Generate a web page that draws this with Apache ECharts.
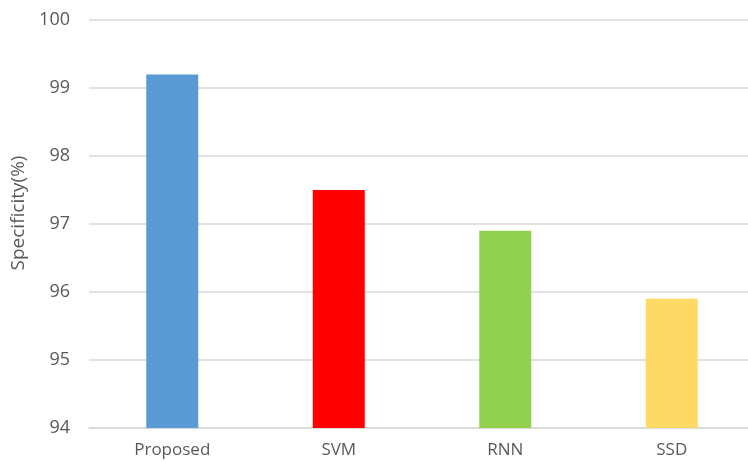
<!DOCTYPE html>
<html>
<head>
<meta charset="utf-8">
<script src="https://cdn.jsdelivr.net/npm/echarts@6/dist/echarts.min.js"></script>
<style>
  html, body { margin: 0; padding: 0; background: #fff; overflow: hidden; }
  /* canvas runs a little past the right edge so the last category keeps its full width */
  #chart { width: 760px; height: 462px; }
</style>
</head>
<body>
<div id="chart"></div>
<script>
// Specificity of each method, in percent
const methods = ['Proposed', 'SVM', 'RNN', 'SSD'];
const specificity = [99.2, 97.5, 96.9, 95.9];
const barColors = ['#5b9bd5', '#ff0000', '#92d050', '#ffd966'];
const yTicks = { min: 94, max: 100, step: 1 };

const chart = echarts.init(document.getElementById('chart'));
const font = '"Open Sans", "Noto Sans", sans-serif';

chart.setOption({
  animation: false,
  grid: { left: 89, top: 20, width: 666, height: 408, containLabel: false },
  xAxis: {
    type: 'category',
    data: methods,
    axisLine: { lineStyle: { color: '#d9d9d9', width: 1.5 } },
    axisTick: { show: false },
    axisLabel: { color: '#595959', fontSize: 17, fontFamily: font, margin: 14 }
  },
  yAxis: {
    type: 'value',
    min: yTicks.min,
    max: yTicks.max,
    interval: yTicks.step,
    name: 'Specificity(%)',
    nameLocation: 'middle',
    nameGap: 58,
    // left padding nudges the rotated title a little upward
    nameTextStyle: { color: '#595959', fontSize: 19, fontFamily: font, padding: [0, 0, 0, 22] },
    axisLine: { show: false },
    axisTick: { show: false },
    splitLine: { lineStyle: { color: '#d9d9d9', width: 1.5 } },
    axisLabel: { color: '#595959', fontSize: 18, fontFamily: font, margin: 19 }
  },
  series: [{
    type: 'bar',
    barWidth: 52,
    data: specificity.map((v, i) => ({ value: v, itemStyle: { color: barColors[i] } }))
  }]
});
</script>
</body>
</html>
